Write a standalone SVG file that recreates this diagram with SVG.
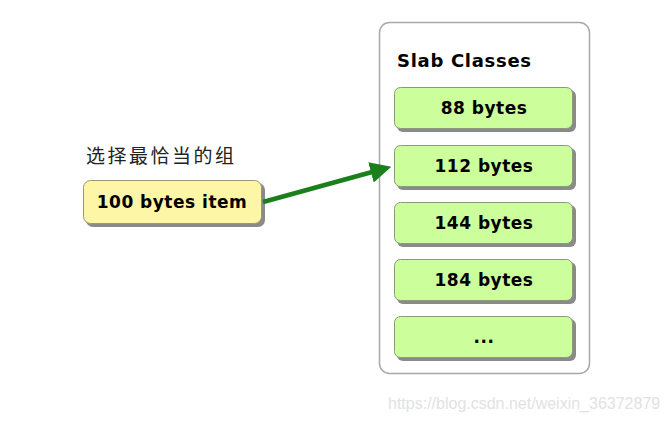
<svg xmlns="http://www.w3.org/2000/svg" width="670" height="422" viewBox="0 0 670 422">
<defs>
<marker id="ah" markerWidth="4.4" markerHeight="4.4" refX="2.6" refY="2.2" orient="auto" markerUnits="strokeWidth">
<path d="M0,0 L4.4,2.2 L0,4.4 Z" fill="#1b7f1b"/>
</marker>
</defs>
<style>
.lbl{font-family:"DejaVu Sans",Verdana,sans-serif;font-weight:bold;font-size:17px;letter-spacing:0.5px;fill:#000;text-anchor:middle}
.shadow{fill:#8a8a8a}
.g{fill:#ccfe9b;stroke:#8a9a7a;stroke-width:1}
.y{fill:#fdf6a6;stroke:#9a9670;stroke-width:1}
</style>
<rect width="670" height="422" fill="#fff"/>
<g id="container">
<rect x="379.5" y="22.5" width="210" height="351" rx="10" fill="#fff" stroke="#a9a9a9" stroke-width="1.5"/>
<text x="397" y="67" font-family="'DejaVu Sans',Verdana,sans-serif" font-weight="bold" font-size="18" letter-spacing="0.7" fill="#000">Slab Classes</text>
</g>
<g id="n88">
<rect x="397" y="90" width="179" height="42" rx="6" class="shadow"/>
<rect x="394.5" y="87.5" width="178" height="41" rx="6" class="g"/>
<text x="484" y="114" class="lbl">88 bytes</text>
</g>
<g id="n112">
<rect x="397" y="148" width="179" height="42" rx="6" class="shadow"/>
<rect x="394.5" y="145.5" width="178" height="41" rx="6" class="g"/>
<text x="484" y="172" class="lbl">112 bytes</text>
</g>
<g id="n144">
<rect x="397" y="205" width="179" height="42" rx="6" class="shadow"/>
<rect x="394.5" y="202.5" width="178" height="41" rx="6" class="g"/>
<text x="484" y="229" class="lbl">144 bytes</text>
</g>
<g id="n184">
<rect x="397" y="262" width="179" height="42" rx="6" class="shadow"/>
<rect x="394.5" y="259.5" width="178" height="41" rx="6" class="g"/>
<text x="484" y="286" class="lbl">184 bytes</text>
</g>
<g id="nmore">
<rect x="397" y="319" width="179" height="42" rx="6" class="shadow"/>
<rect x="394.5" y="316.5" width="178" height="41" rx="6" class="g"/>
<text x="484" y="343" class="lbl">...</text>
</g>
<g id="item">
<text x="86" y="163" font-family="'Noto Sans CJK SC',sans-serif" font-size="19" letter-spacing="2.5" fill="#222">选择最恰当的组</text>
<rect x="86" y="183" width="179" height="44" rx="7" class="shadow"/>
<rect x="83.5" y="180.5" width="178" height="43" rx="7" class="y"/>
<text x="172" y="208" class="lbl">100 bytes item</text>
</g>
<g id="connectors">
<line x1="263" y1="202" x2="383" y2="169" stroke="#1b7f1b" stroke-width="4.8" marker-end="url(#ah)"/>
</g>
<text x="388" y="409" font-family="'Liberation Sans',Arial,sans-serif" font-size="16" fill="#e2e2e2">https://blog.csdn.net/weixin_36372879</text>
</svg>
